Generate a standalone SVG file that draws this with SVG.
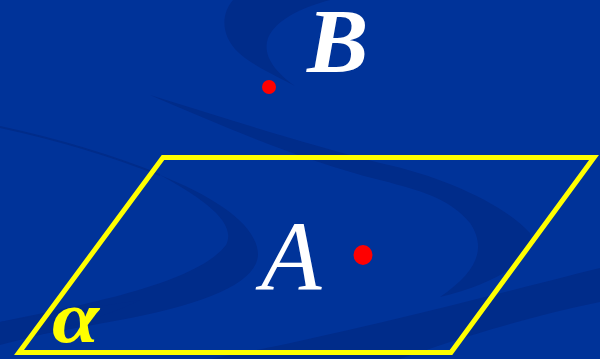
<svg xmlns="http://www.w3.org/2000/svg" width="600" height="359" viewBox="0 0 600 359">
  <style>
    .swoosh { fill: #002c8a; }
    .thin { fill: none; stroke: #002c8a; stroke-width: 2; }
    .label { font-family: "Liberation Serif", "Times New Roman", serif; font-style: italic; }
    .pt { fill: #ff0000; }
  </style>
  <rect x="0" y="0" width="600" height="359" fill="#003399"/>
  <g id="background">
    <path class="swoosh" d="M233,0 C220,15 220,40 245,58 C262,70 280,78 295,86 C275,72 262,55 268,38 C276,20 300,8 330,0 Z"/>
    <path class="swoosh" d="M150,95 C230,120 310,145 380,163 C447,177 507,207 530,233 C535,260 497,283 440,297 C475,273 488,250 470,223 C450,200 430,193 380,180 C300,160 220,125 150,95 Z"/>
    <path class="swoosh" d="M160,175 C215,197 258,225 258,255 C256,285 200,305 120,320 L0,342 L0,359 L0,322 C80,305 195,285 226,245 C238,222 200,197 160,175 Z"/>
    <path class="swoosh" d="M600,268 C480,298 340,335 210,359 L400,359 C440,345 520,318 600,302 Z"/>
    <path class="swoosh" d="M0,322 C60,312 110,305 140,300 C100,320 40,335 0,345 Z"/>
    <path class="thin" d="M0,127 C60,140 110,155 160,175"/>
  </g>
  <g id="plane-alpha">
    <polygon points="163,157.5 594,157.5 451,352.5 19,352.5" fill="none" stroke="#ffff00" stroke-width="5" stroke-linejoin="miter"/>
    <text class="label" transform="translate(52,342) scale(1.15,1)" font-size="74" font-weight="bold" fill="#ffff00">α</text>
  </g>
  <g id="point-B">
    <circle class="pt" cx="269" cy="87" r="7"/>
    <text class="label" x="307" y="72" font-size="92" font-weight="bold" fill="#ffffff">B</text>
  </g>
  <g id="point-A">
    <ellipse class="pt" cx="363" cy="255" rx="9.5" ry="10"/>
    <text class="label" x="261" y="290" font-size="99" fill="#ffffff">A</text>
  </g>
</svg>
